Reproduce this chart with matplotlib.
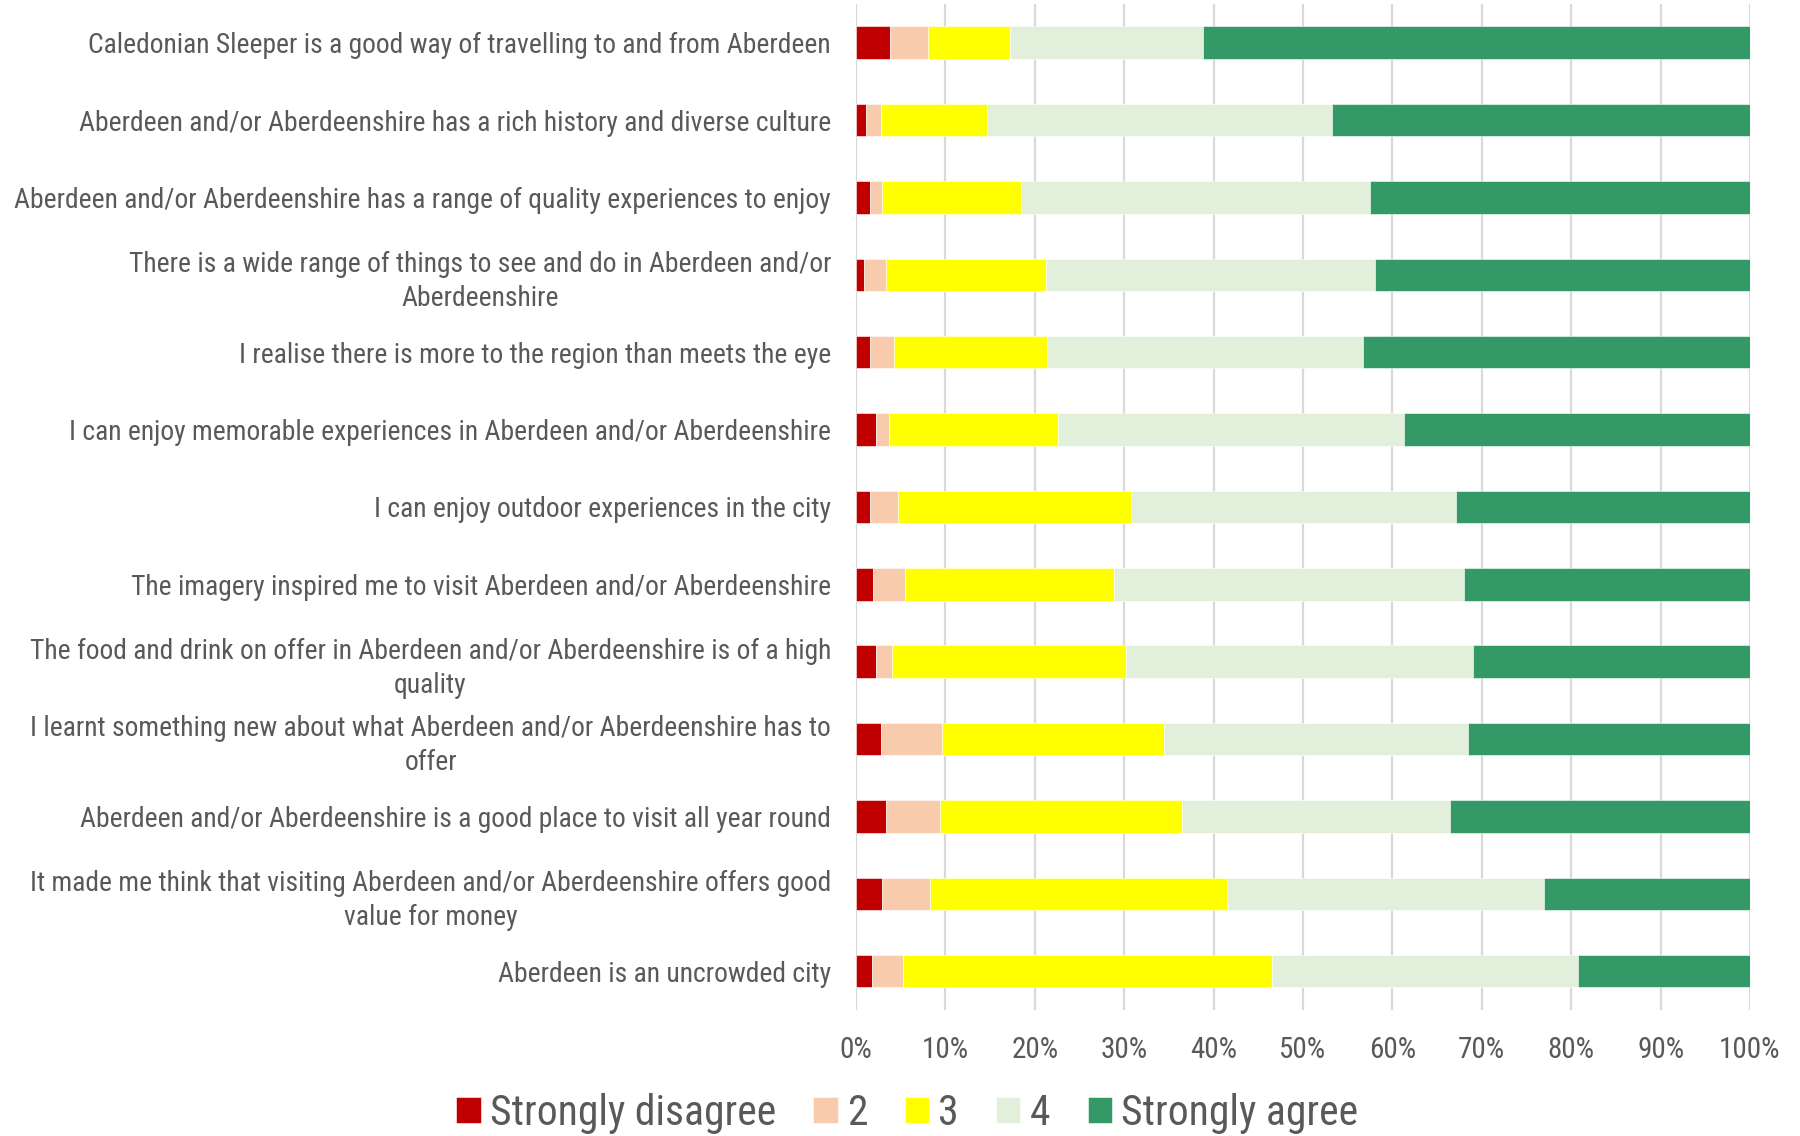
import matplotlib
matplotlib.use("Agg")
import matplotlib.pyplot as plt
from matplotlib import font_manager
import numpy as np

statements = [
    "Caledonian Sleeper is a good way of travelling to and from Aberdeen",
    "Aberdeen and/or Aberdeenshire has a rich history and diverse culture",
    "Aberdeen and/or Aberdeenshire has a range of quality experiences to enjoy",
    "There is a wide range of things to see and do in Aberdeen and/or\nAberdeenshire",
    "I realise there is more to the region than meets the eye",
    "I can enjoy memorable experiences in Aberdeen and/or Aberdeenshire",
    "I can enjoy outdoor experiences in the city",
    "The imagery inspired me to visit Aberdeen and/or Aberdeenshire",
    "The food and drink on offer in Aberdeen and/or Aberdeenshire is of a high\nquality",
    "I learnt something new about what Aberdeen and/or Aberdeenshire has to\noffer",
    "Aberdeen and/or Aberdeenshire is a good place to visit all year round",
    "It made me think that visiting Aberdeen and/or Aberdeenshire offers good\nvalue for money",
    "Aberdeen is an uncrowded city",
]

# Share of responses (%) per statement, one list per scale point
strongly_disagree = [3.8, 1.1, 1.6, 0.9, 1.6, 2.2, 1.6, 1.9, 2.2, 2.8, 3.3, 2.9, 1.8]
score_2 = [4.3, 1.7, 1.3, 2.4, 2.6, 1.5, 3.1, 3.6, 1.8, 6.8, 6.1, 5.4, 3.4]
score_3 = [9.1, 11.8, 15.5, 18.0, 17.2, 18.9, 26.0, 23.4, 26.2, 24.8, 27.1, 33.2, 41.3]
score_4 = [21.6, 38.6, 39.1, 36.8, 35.3, 38.7, 36.4, 39.1, 38.8, 34.1, 29.9, 35.5, 34.3]
strongly_agree = [61.2, 46.8, 42.5, 41.9, 43.3, 38.7, 32.9, 32.0, 31.0, 31.5, 33.6, 23.0, 19.2]

series_names = ["Strongly disagree", "2", "3", "4", "Strongly agree"]
tick_values = [0, 10, 20, 30, 40, 50, 60, 70, 80, 90, 100]

colors = ["#C00000", "#F8CBAD", "#FFFF00", "#E2EFDA", "#339966"]

# Pick a narrow sans face if one is available
fonts = font_manager.fontManager.ttflist
narrow = None
for wanted in ["Liberation Sans Narrow", "Arial Narrow", "Roboto Condensed"]:
    if any(f.name == wanted for f in fonts):
        narrow = (wanted, "normal", 1.0)
        break
if narrow is None:
    for fam in ["Noto Sans", "Open Sans", "DejaVu Sans"]:
        for st in ["condensed", "semi-condensed"]:
            if any(f.name == fam and f.stretch == st and f.style == "normal" for f in fonts):
                narrow = (fam, st, 1.0)
                break
        if narrow:
            break
if narrow is None:
    narrow = ("Liberation Sans", "normal", 0.92)

fam, stretch, scale = narrow
plt.rcParams["font.family"] = [fam, "DejaVu Sans"]
plt.rcParams["font.stretch"] = stretch
text_color = "#595959"

fig = plt.figure(figsize=(18, 11.36), dpi=100)
ax = fig.add_axes([0.4756, 0.111, 0.4966, 0.8855])

series = [strongly_disagree, score_2, score_3, score_4, strongly_agree]
y = np.arange(len(statements))
left = np.zeros(len(statements))
for name, vals, col in zip(series_names, series, colors):
    vals = np.array(vals, dtype=float)
    ax.barh(y, vals, left=left, height=0.42, color=col, label=name,
            edgecolor="white", linewidth=0.4, zorder=3)
    left += vals

ax.set_ylim(len(statements) - 0.5, -0.5)
ax.set_xlim(0, 100)
ax.set_xticks(tick_values)
ax.set_xticklabels([f"{v}%" for v in tick_values])
ax.set_yticks(y)
ax.set_yticklabels(statements, multialignment="center", linespacing=1.35)
ax.tick_params(axis="y", length=0, pad=18, labelsize=19.9 * scale, labelcolor=text_color)
ax.tick_params(axis="x", length=0, pad=19, labelsize=21 * scale, labelcolor=text_color)
ax.xaxis.grid(True, color="#D9D9D9", linewidth=1.6, zorder=0)
ax.set_axisbelow(True)
for s in ax.spines.values():
    s.set_visible(False)

handles, labels = ax.get_legend_handles_labels()
fig.legend(handles, labels, loc="lower center", bbox_to_anchor=(0.504, -0.031),
           ncol=5, frameon=False, fontsize=30 * scale, labelcolor=text_color,
           handlelength=0.58, handleheight=0.58, handletextpad=0.22, columnspacing=0.9)

fig.savefig("out.png", dpi=100, facecolor="white")
